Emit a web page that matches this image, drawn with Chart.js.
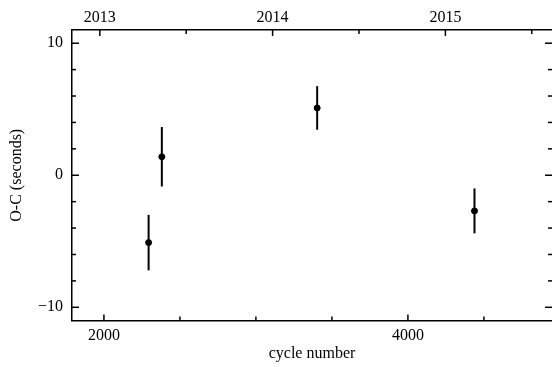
<!DOCTYPE html>
<html>
<head>
<title>O-C diagram</title>
<style>
body { margin: 0; overflow: hidden; background: #fff; }
#wrap { width: 556px; height: 367px; }
</style>
<script src="https://cdn.jsdelivr.net/npm/chart.js@4/dist/chart.umd.min.js"></script>
</head>
<body>
<div id="wrap"><canvas id="ocChart"></canvas></div>

<script>
// data
var cycles = [2294, 2381, 3403, 4438];
var ocValues = [-5.1, 1.4, 5.1, -2.7];
var ocErrors = [2.1, 2.25, 1.65, 1.7];

// axis ticks
var cycleTicks = [2000, 4000];
var cycleMinor = [2500, 3000, 3500, 4500];
var yearTicks = [2013, 2014, 2015];
var yearMinor = [2013.5, 2014.5, 2015.5];
var ocTicks = [-10, 0, 10];
var ocMinor = [-8, -6, -4, -2, 2, 4, 6, 8];

var serif = { family: "'Liberation Serif', 'DejaVu Serif', serif", size: 16, lineHeight: 1.2 };

function minus(v) {
  return v < 0 ? '\u2212' + Math.abs(v) : String(v);
}

// error bars, drawn under the points
var errorBars = {
  id: 'errorBars',
  beforeDatasetsDraw: function(chart) {
    var ctx = chart.ctx, x = chart.scales.x, y = chart.scales.y;
    ctx.save();
    ctx.strokeStyle = '#000';
    ctx.lineWidth = 2;
    for (var i = 0; i < cycles.length; i++) {
      var px = x.getPixelForValue(cycles[i]);
      ctx.beginPath();
      ctx.moveTo(px, y.getPixelForValue(ocValues[i] + ocErrors[i]));
      ctx.lineTo(px, y.getPixelForValue(ocValues[i] - ocErrors[i]));
      ctx.stroke();
    }
    ctx.restore();
  }
};

// inward ticks on all four sides
var inwardTicks = {
  id: 'inwardTicks',
  afterDraw: function(chart) {
    var ctx = chart.ctx, a = chart.chartArea, s = chart.scales;
    ctx.save();
    ctx.strokeStyle = '#000';
    ctx.lineWidth = 1.5;
    function vtick(scale, vals, len, yEdge, dir) {
      vals.forEach(function(v) {
        var p = scale.getPixelForValue(v);
        ctx.beginPath(); ctx.moveTo(p, yEdge); ctx.lineTo(p, yEdge + dir * len); ctx.stroke();
      });
    }
    function htick(scale, vals, len, xEdge, dir) {
      vals.forEach(function(v) {
        var p = scale.getPixelForValue(v);
        ctx.beginPath(); ctx.moveTo(xEdge, p); ctx.lineTo(xEdge + dir * len, p); ctx.stroke();
      });
    }
    vtick(s.x, cycleTicks, 6, a.bottom, -1);
    vtick(s.x, cycleMinor, 4, a.bottom, -1);
    vtick(s.x2, yearTicks, 6, a.top, 1);
    vtick(s.x2, yearMinor, 4, a.top, 1);
    htick(s.y, ocTicks, 7, a.left, 1);
    htick(s.y, ocMinor, 4, a.left, 1);
    htick(s.y, ocTicks, 7, a.right, -1);
    htick(s.y, ocMinor, 4, a.right, -1);
    ctx.restore();
  }
};

new Chart('ocChart', {
  type: 'scatter',
  data: {
    datasets: [{
      data: cycles.map(function(c, i) { return { x: c, y: ocValues[i] }; }),
      backgroundColor: '#000',
      borderColor: '#000',
      pointRadius: 3,
      pointHoverRadius: 3
    }]
  },
  options: {
    responsive: true,
    maintainAspectRatio: false,
    animation: false,
    layout: { padding: { left: 0, right: 1, top: 0, bottom: 0 } },
    plugins: { legend: { display: false }, tooltip: { enabled: false } },
    scales: {
      x: {
        type: 'linear', position: 'bottom', min: 1790, max: 4948,
        afterBuildTicks: function(s) { s.ticks = cycleTicks.map(function(v) { return { value: v }; }); },
        afterFit: function(s) { s.height = 46.5; },
        grid: { display: false, drawTicks: false },
        border: { display: true, color: '#000', width: 1.5 },
        ticks: { color: '#000', font: serif, padding: 6, maxRotation: 0, callback: function(v) { return String(v); } },
        title: { display: true, text: 'cycle number', color: '#000', font: serif, padding: { top: 0, bottom: 4 } }
      },
      x2: {
        type: 'linear', position: 'top', min: 2012.839, max: 2015.617,
        afterBuildTicks: function(s) { s.ticks = yearTicks.map(function(v) { return { value: v }; }); },
        afterFit: function(s) { s.height = 30; },
        grid: { display: false, drawTicks: false },
        border: { display: true, color: '#000', width: 1.5 },
        ticks: { color: '#000', font: serif, padding: 3, maxRotation: 0, callback: function(v) { return String(v); } }
      },
      y: {
        type: 'linear', position: 'left', min: -11, max: 11,
        afterBuildTicks: function(s) { s.ticks = ocTicks.map(function(v) { return { value: v }; }); },
        afterFit: function(s) { s.width = 72; },
        grid: { display: false, drawTicks: false },
        border: { display: true, color: '#000', width: 1.5 },
        ticks: { color: '#000', font: serif, padding: 9, callback: function(v) { return minus(v); } },
        title: { display: true, text: 'O-C (seconds)', color: '#000', font: serif, padding: { top: 7, bottom: 0 } }
      }
    }
  },
  plugins: [errorBars, inwardTicks]
});
</script>
</body>
</html>
